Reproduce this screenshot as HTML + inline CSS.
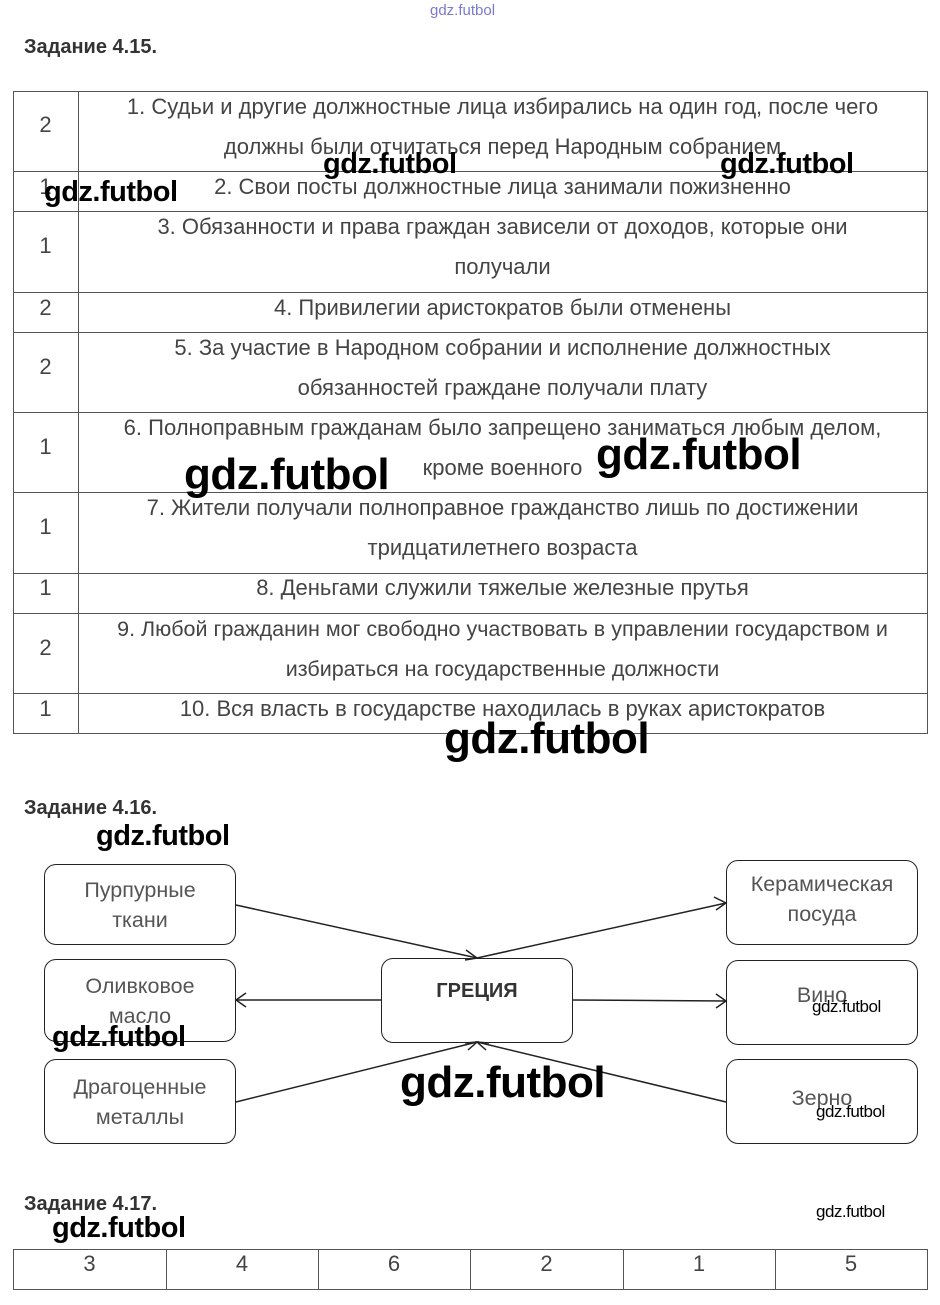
<!DOCTYPE html><html><head><meta charset="utf-8"><style>
body{margin:0;width:940px;height:1305px;background:#fff;position:relative;font-family:"Liberation Sans",sans-serif;overflow:hidden}
.a{position:absolute}
.h{font-weight:bold;font-size:20px;color:#333}
.t{color:#444;font-size:22px;text-align:center;line-height:40px;white-space:nowrap}
.w{position:absolute;font-weight:bold;color:#000;letter-spacing:-0.5px;white-space:nowrap}
.box{position:absolute;border:1.5px solid #222;border-radius:12px;text-align:center;color:#555;font-size:21.5px;line-height:30px;display:flex;align-items:center;justify-content:center;box-sizing:border-box}
</style></head><body>
<div class="a" style="left:430px;top:2px;font-size:15px;color:#7a7ad0">gdz.futbol</div>
<div class="a h" style="left:24px;top:36px">Задание 4.15.</div>
<svg class="a" style="left:0;top:0" width="940" height="760">
<g stroke="#555" stroke-width="1" fill="none">
<rect x="13.5" y="91.5" width="914" height="642"/>
<line x1="78.5" y1="91" x2="78.5" y2="734"/>
<line x1="13" y1="171.5" x2="928" y2="171.5"/><line x1="13" y1="211.5" x2="928" y2="211.5"/>
<line x1="13" y1="292.5" x2="928" y2="292.5"/><line x1="13" y1="332.5" x2="928" y2="332.5"/>
<line x1="13" y1="412.5" x2="928" y2="412.5"/><line x1="13" y1="492.5" x2="928" y2="492.5"/>
<line x1="13" y1="573.5" x2="928" y2="573.5"/><line x1="13" y1="613.5" x2="928" y2="613.5"/>
<line x1="13" y1="693.5" x2="928" y2="693.5"/>
</g></svg>
<div class="a t" style="left:13px;top:105px;width:65px">2</div>
<div class="a t" style="left:78px;top:87px;width:849px">1. Судьи и другие должностные лица избирались на один год, после чего<br>должны были отчитаться перед Народным собранием</div>
<div class="a t" style="left:13px;top:167px;width:65px">1</div>
<div class="a t" style="left:78px;top:167px;width:849px">2. Свои посты должностные лица занимали пожизненно</div>
<div class="a t" style="left:13px;top:226px;width:65px">1</div>
<div class="a t" style="left:78px;top:207px;width:849px">3. Обязанности и права граждан зависели от доходов, которые они<br>получали</div>
<div class="a t" style="left:13px;top:288px;width:65px">2</div>
<div class="a t" style="left:78px;top:288px;width:849px">4. Привилегии аристократов были отменены</div>
<div class="a t" style="left:13px;top:347px;width:65px">2</div>
<div class="a t" style="left:78px;top:328px;width:849px">5. За участие в Народном собрании и исполнение должностных<br>обязанностей граждане получали плату</div>
<div class="a t" style="left:13px;top:427px;width:65px">1</div>
<div class="a t" style="left:78px;top:408px;width:849px">6. Полноправным гражданам было запрещено заниматься любым делом,<br>кроме военного</div>
<div class="a t" style="left:13px;top:507px;width:65px">1</div>
<div class="a t" style="left:78px;top:488px;width:849px">7. Жители получали полноправное гражданство лишь по достижении<br>тридцатилетнего возраста</div>
<div class="a t" style="left:13px;top:568px;width:65px">1</div>
<div class="a t" style="left:78px;top:568px;width:849px">8. Деньгами служили тяжелые железные прутья</div>
<div class="a t" style="left:13px;top:628px;width:65px">2</div>
<div class="a t" style="left:78px;top:609px;width:849px;font-size:21.5px">9. Любой гражданин мог свободно участвовать в управлении государством и<br>избираться на государственные должности</div>
<div class="a t" style="left:13px;top:689px;width:65px">1</div>
<div class="a t" style="left:78px;top:689px;width:849px">10. Вся власть в государстве находилась в руках аристократов</div>

<div class="w" style="left:44px;top:176px;font-size:29px">gdz.futbol</div>
<div class="w" style="left:323px;top:148px;font-size:29px">gdz.futbol</div>
<div class="w" style="left:720px;top:148px;font-size:29px">gdz.futbol</div>
<div class="w" style="left:184px;top:450px;font-size:44px">gdz.futbol</div>
<div class="w" style="left:596px;top:430px;font-size:44px">gdz.futbol</div>
<div class="w" style="left:444px;top:714px;font-size:44px">gdz.futbol</div>

<div class="a h" style="left:24px;top:797px">Задание 4.16.</div>
<div class="w" style="left:96px;top:820px;font-size:29px">gdz.futbol</div>

<svg class="a" style="left:0;top:0" width="940" height="1305">
<g stroke="#222" stroke-width="1.5" fill="none">
<line x1="236" y1="905" x2="477" y2="958"/><polyline points="466,950 477,958 465,960"/>
<line x1="477" y1="958" x2="726" y2="903"/><polyline points="714,897 726,903 716,910"/>
<line x1="381" y1="1000" x2="236" y2="1000"/><polyline points="246,993 236,1000 246,1007"/>
<line x1="573" y1="1000" x2="726" y2="1001"/><polyline points="716,994 726,1001 716,1008"/>
<line x1="236" y1="1102" x2="477" y2="1042"/><polyline points="465,1043 477,1042 468,1050"/>
<line x1="726" y1="1102" x2="477" y2="1042"/><polyline points="486,1050 477,1042 489,1043"/>
</g></svg>
<div class="box" style="left:44px;top:864px;width:192px;height:81px">Пурпурные<br>ткани</div>
<div class="box" style="left:44px;top:959px;width:192px;height:83px">Оливковое<br>масло</div>
<div class="box" style="left:44px;top:1059px;width:192px;height:85px">Драгоценные<br>металлы</div>
<div class="box" style="left:726px;top:860px;width:192px;height:85px;padding-bottom:8px">Керамическая<br>посуда</div>
<div class="box" style="left:726px;top:960px;width:192px;height:85px;padding-bottom:16px">Вино</div>
<div class="box" style="left:726px;top:1059px;width:192px;height:85px;padding-bottom:8px">Зерно</div>
<div class="box" style="left:381px;top:958px;width:192px;height:85px;padding-bottom:20px;font-weight:bold;color:#333;font-size:20px">ГРЕЦИЯ</div>
<div class="w" style="left:812px;top:997px;font-size:17px;font-weight:normal">gdz.futbol</div>
<div class="w" style="left:816px;top:1102px;font-size:17px;font-weight:normal">gdz.futbol</div>
<div class="w" style="left:52px;top:1021px;font-size:29px">gdz.futbol</div>
<div class="w" style="left:400px;top:1058px;font-size:44px">gdz.futbol</div>

<div class="a h" style="left:24px;top:1193px">Задание 4.17.</div>
<div class="w" style="left:52px;top:1212px;font-size:29px">gdz.futbol</div>
<div class="w" style="left:816px;top:1202px;font-size:17px;font-weight:normal">gdz.futbol</div>
<svg class="a" style="left:0;top:0" width="940" height="1305">
<g stroke="#555" stroke-width="1" fill="none">
<rect x="13.5" y="1249.5" width="914" height="40"/>
<line x1="166.5" y1="1249" x2="166.5" y2="1290"/><line x1="318.5" y1="1249" x2="318.5" y2="1290"/>
<line x1="470.5" y1="1249" x2="470.5" y2="1290"/><line x1="623.5" y1="1249" x2="623.5" y2="1290"/>
<line x1="775.5" y1="1249" x2="775.5" y2="1290"/>
</g></svg>
<div class="a t" style="left:13px;top:1244px;width:153px">3</div>
<div class="a t" style="left:166px;top:1244px;width:152px">4</div>
<div class="a t" style="left:318px;top:1244px;width:152px">6</div>
<div class="a t" style="left:470px;top:1244px;width:153px">2</div>
<div class="a t" style="left:623px;top:1244px;width:152px">1</div>
<div class="a t" style="left:775px;top:1244px;width:152px">5</div>
</body></html>
